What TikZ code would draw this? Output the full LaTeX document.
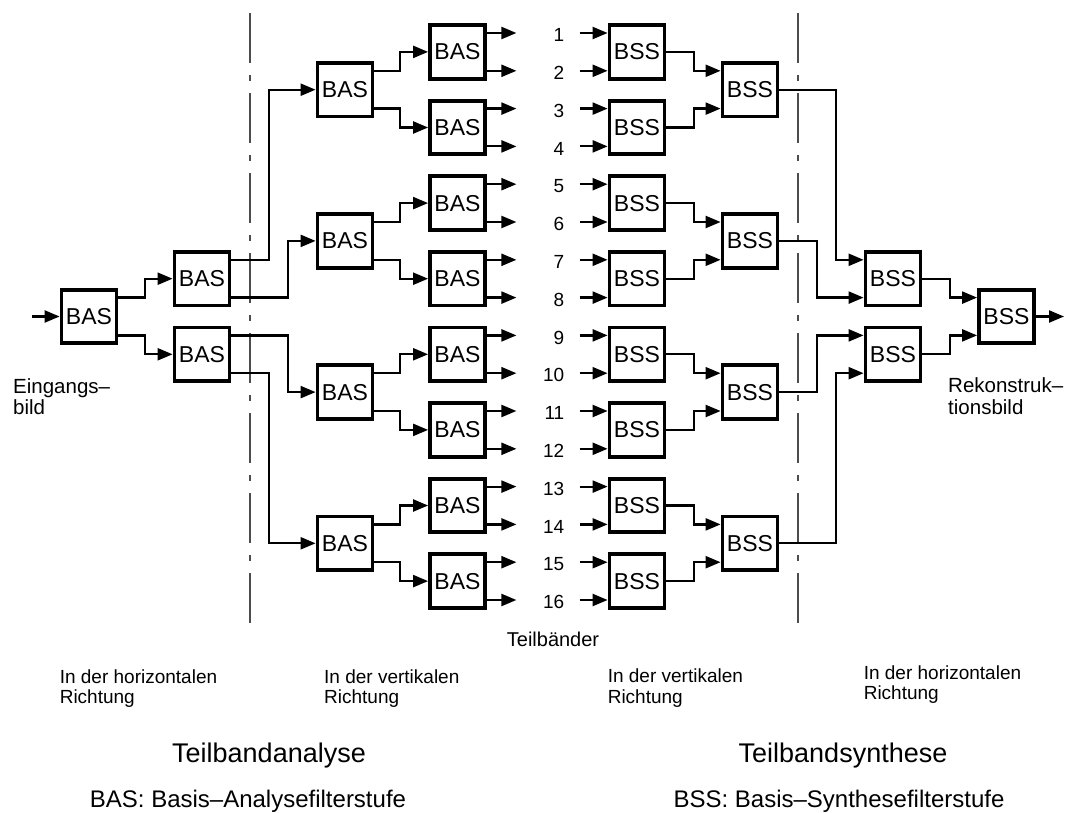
\documentclass[tikz,border=0pt]{standalone}
\usepackage{fontspec}
\setmainfont{Liberation Sans}
\usetikzlibrary{arrows.meta}

\begin{document}
\begin{tikzpicture}[x=1pt,y=-1pt,
  blk/.style={draw, line width=3.8pt, minimum width=55pt, minimum height=53.5pt,
              inner sep=0pt, font=\fontsize{23}{23}\selectfont},
  con/.style={line width=2.2pt},
  arr/.style={con, -{Triangle[length=15pt,width=12pt]}},
  num/.style={anchor=base east, inner sep=0pt, font=\fontsize{19}{19}\selectfont},
  lbl/.style={anchor=base west, inner sep=0pt, font=\fontsize{20.5}{20.5}\selectfont},
  dirtext/.style={anchor=base west, inner sep=0pt, font=\fontsize{19}{19}\selectfont},
  ttl/.style={anchor=base, inner sep=0pt, font=\fontsize{27}{27}\selectfont},
  leg/.style={anchor=base, inner sep=0pt, font=\fontsize{24}{24}\selectfont},
  sepline/.style={line width=1.4pt, black!70,
                  dash pattern=on 50pt off 12pt on 6pt off 12pt}]

\useasboundingbox (0,0) rectangle (1069,813);

% separators between the horizontal and vertical stages
\draw[sepline] (250,13) -- (250,625);
\draw[sepline] (798,13) -- (798,625);

% third analysis stage and first synthesis stage
\foreach \k in {0,...,7} {
  \pgfmathsetmacro\yc{51.9+75.6*\k}
  \node[blk] (a3\k) at (457.5,\yc) {BAS};
  \node[blk] (s3\k) at (637,\yc) {BSS};
}

% subband numbers
\foreach \n in {1,...,16} {
  \pgfmathsetmacro\yr{33+37.8*(\n-1)}
  \node[num] (n\n) at (564.5,\yr+8.7) {\n};
}

% subband outputs and inputs
\foreach \k in {0,...,7} {
  \draw[arr] ([yshift=18.9pt]a3\k.east) -- ++(29.5,0);
  \draw[arr] ([yshift=-18.9pt]a3\k.east) -- ++(29.5,0);
  \draw[arr] ([xshift=-28pt,yshift=18.9pt]s3\k.west) -- ([yshift=18.9pt]s3\k.west);
  \draw[arr] ([xshift=-28pt,yshift=-18.9pt]s3\k.west) -- ([yshift=-18.9pt]s3\k.west);
}

% second analysis stage and second synthesis stage
\foreach \j [evaluate=\j as \ka using int(2*\j),
             evaluate=\j as \kb using int(2*\j+1)] in {0,...,3} {
  \pgfmathsetmacro\yc{89.7+151.2*\j}
  \node[blk] (a2\j) at (345,\yc) {BAS};
  \node[blk] (s2\j) at (750,\yc) {BSS};
  \draw[arr] ([yshift=18.9pt]a2\j.east) -| ([xshift=-28pt]a3\ka.west) -- (a3\ka.west);
  \draw[arr] ([yshift=-18.9pt]a2\j.east) -| ([xshift=-28pt]a3\kb.west) -- (a3\kb.west);
  \draw[arr] (s3\ka.east) -| ([xshift=-27pt,yshift=18.9pt]s2\j.west) -- ([yshift=18.9pt]s2\j.west);
  \draw[arr] (s3\kb.east) -| ([xshift=-27pt,yshift=-18.9pt]s2\j.west) -- ([yshift=-18.9pt]s2\j.west);
}

% first analysis stage and third synthesis stage
\node[blk] (a10) at (202,278.7) {BAS};
\node[blk] (a11) at (202,354.3) {BAS};
\node[blk] (s10) at (893,278.7) {BSS};
\node[blk] (s11) at (893,354.3) {BSS};

\draw[arr] ([yshift=18.9pt]a10.east)  -| ([xshift=-46.7pt]a20.west) -- (a20.west);
\draw[arr] ([yshift=-18.9pt]a10.east) -| ([xshift=-27.7pt]a21.west) -- (a21.west);
\draw[arr] ([yshift=18.9pt]a11.east)  -| ([xshift=-27.7pt]a22.west) -- (a22.west);
\draw[arr] ([yshift=-18.9pt]a11.east) -| ([xshift=-46.7pt]a23.west) -- (a23.west);

\draw[arr] (s20.east) -| ([xshift=-27.7pt,yshift=18.9pt]s10.west)  -- ([yshift=18.9pt]s10.west);
\draw[arr] (s21.east) -| ([xshift=-46.7pt,yshift=-18.9pt]s10.west) -- ([yshift=-18.9pt]s10.west);
\draw[arr] (s22.east) -| ([xshift=-46.7pt,yshift=18.9pt]s11.west)  -- ([yshift=18.9pt]s11.west);
\draw[arr] (s23.east) -| ([xshift=-27.7pt,yshift=-18.9pt]s11.west) -- ([yshift=-18.9pt]s11.west);

% input and output stages
\node[blk] (a0) at (89,316.5) {BAS};
\node[blk] (s0) at (1006.5,316.5) {BSS};
\coordinate (inp) at (32,316.5);
\coordinate (outp) at (1064,316.5);

\draw[arr] (inp) -- (a0.west);
\draw[arr] ([yshift=18.9pt]a0.east)  -| ([xshift=-27.7pt]a10.west) -- (a10.west);
\draw[arr] ([yshift=-18.9pt]a0.east) -| ([xshift=-27.7pt]a11.west) -- (a11.west);
\draw[arr] (s10.east) -| ([xshift=-27.2pt,yshift=18.9pt]s0.west)  -- ([yshift=18.9pt]s0.west);
\draw[arr] (s11.east) -| ([xshift=-27.2pt,yshift=-18.9pt]s0.west) -- ([yshift=-18.9pt]s0.west);
\draw[arr] (s0.east) -- (outp);

% labels
\node[lbl] (ein1) at (13,393.5) {Eingangs–};
\node[lbl] (ein2) at (13,414) {bild};
\node[lbl] (rek1) at (948,392) {Rekonstruk–};
\node[lbl] (rek2) at (948,414) {tionsbild};
\node[anchor=base, inner sep=0pt, font=\fontsize{20}{20}\selectfont] (tb) at (553,646) {Teilbänder};

\node[dirtext] (d1a) at (59.6,683) {In der horizontalen};
\node[dirtext] (d1b) at (59.6,703.5) {Richtung};
\node[dirtext] (d2a) at (324,683) {In der vertikalen};
\node[dirtext] (d2b) at (324,703.5) {Richtung};
\node[dirtext] (d3a) at (607.6,682.5) {In der vertikalen};
\node[dirtext] (d3b) at (607.6,703) {Richtung};
\node[dirtext] (d4a) at (863.6,679) {In der horizontalen};
\node[dirtext] (d4b) at (863.6,699.5) {Richtung};

\node[ttl] (ta) at (269,762) {Teilbandanalyse};
\node[ttl] (ts) at (843,762) {Teilbandsynthese};
\node[leg] (la) at (248,807) {BAS: Basis–Analysefilterstufe};
\node[leg] (ls) at (839,807) {BSS: Basis–Synthesefilterstufe};
\end{tikzpicture}
\end{document}
